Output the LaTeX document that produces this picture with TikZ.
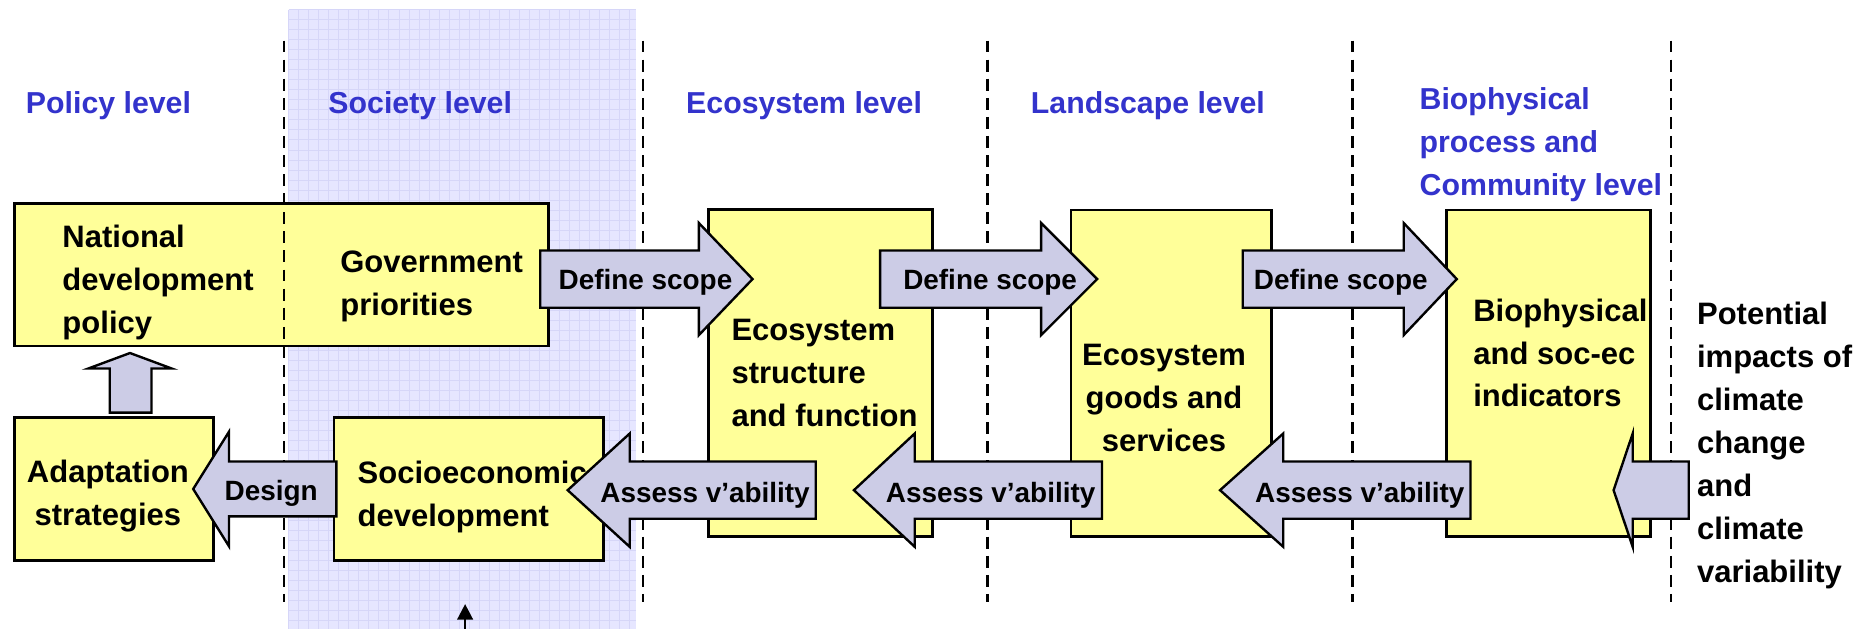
\documentclass[tikz,border=0pt]{standalone}
\usepackage{fontspec}
\setmainfont{Liberation Sans}
\usetikzlibrary{arrows.meta}
\definecolor{lvlblue}{RGB}{51,51,204}
\definecolor{boxyellow}{RGB}{255,255,153}
\definecolor{arrowfill}{RGB}{204,204,230}
\definecolor{shadec}{RGB}{230,230,255}
\definecolor{gridc}{RGB}{214,214,248}
\begin{document}
\begin{tikzpicture}[x=0.5pt,y=-0.5pt,
  box/.style={draw=black, line width=1pt, fill=boxyellow, inner sep=0pt},
  boxtxt/.style={font=\fontsize{13}{18}\selectfont\bfseries, inner sep=0pt, align=left, anchor=north west},
  boxtxtc/.style={font=\fontsize{13}{18}\selectfont\bfseries, inner sep=0pt, align=center, anchor=north},
  lvl/.style={font=\fontsize{12.7}{18}\selectfont\bfseries, text=lvlblue, inner sep=0pt, align=left, anchor=north west},
  barrow/.style={draw=black, line width=1pt, fill=arrowfill, line join=miter},
  alabel/.style={font=\fontsize{11.7}{14}\selectfont\bfseries, inner sep=0pt, anchor=base west},
  divider/.style={draw=black, dash pattern=on 5pt off 3pt, line width=0.9pt}]
\useasboundingbox (0,0) rectangle (1568,527);
% shaded society column
\fill[shadec] (242,8) rectangle (533,527);
\foreach \gx in {242,250.4,...,533} \draw[gridc, line width=0.25pt] (\gx,8) -- (\gx,527);
\foreach \gy in {8,16.4,...,527} \draw[gridc, line width=0.25pt] (242,\gy) -- (533,\gy);
% boxes
\node[box, minimum width=224pt, minimum height=59.75pt] (topbox) at (236,230.5) {};
\node[box, minimum width=83.5pt, minimum height=60pt] (adapt) at (95.5,410) {};
\node[box, minimum width=113pt, minimum height=60pt] (socio) at (393,410) {};
\node[box, minimum width=94pt, minimum height=137.25pt] (ecostruct) at (688,312.75) {};
\node[box, minimum width=84pt, minimum height=137pt] (goods) at (982,313) {};
\node[box, minimum width=85.5pt, minimum height=137pt] (bioind) at (1298.5,313) {};
% box texts
\node[boxtxt] (tnat) at (52,188) {National\\development\\policy};
\node[boxtxt] (tgov) at (285,210) {Government\\priorities};
\node[boxtxtc] (tadapt) at (90.5,385) {Adaptation\\strategies};
\node[boxtxt] (tsocio) at (299.5,386) {Socioeconomic\\development};
\node[boxtxt] (teco) at (613,267) {Ecosystem\\structure\\and function};
\node[boxtxtc] (tgoods) at (976,288) {Ecosystem\\goods and\\services};
\node[boxtxt] (tbio) at (1235,250) {Biophysical\\and soc-ec\\indicators};
\node[boxtxt] (tpot) at (1422.6,253) {Potential\\impacts of\\climate\\change\\and\\climate\\variability};
% level labels
\node[lvl] (lpol) at (21.4,76) {Policy level};
\node[lvl] (lsoc) at (275,76) {Society level};
\node[lvl] (leco) at (575,76) {Ecosystem level};
\node[lvl] (llan) at (864,76) {Landscape level};
\node[lvl] (lbio) at (1190,73) {Biophysical\\process and\\Community level};
% dividers
\foreach \dx in {238,539,828,1134,1401} \draw[divider] (\dx,34) -- (\dx,505);
% block arrows: define scope
\draw[barrow] (453,210) -- (586,210) -- (586,187) -- (631,234) -- (586,281) -- (586,258) -- (453,258) -- cycle;
\draw[barrow] (738,210) -- (873,210) -- (873,187) -- (920,234) -- (873,281) -- (873,258) -- (738,258) -- cycle;
\draw[barrow] (1042,210) -- (1177,210) -- (1177,187) -- (1221.5,234) -- (1177,281) -- (1177,258) -- (1042,258) -- cycle;
% assess arrows
\draw[barrow] (684,387) -- (528,387) -- (528,363.5) -- (476,411) -- (528,458.5) -- (528,435) -- (684,435) -- cycle;
\draw[barrow] (924,387) -- (767,387) -- (767,363.5) -- (716,411) -- (767,458.5) -- (767,435) -- (924,435) -- cycle;
\draw[barrow] (1233,387) -- (1076,387) -- (1076,363.5) -- (1023,411) -- (1076,458.5) -- (1076,435) -- (1233,435) -- cycle;
\draw[barrow] (1416,387) -- (1369,387) -- (1369,363.5) -- (1353,411) -- (1369,458.5) -- (1369,435) -- (1416,435) -- cycle;
% design arrow
\draw[barrow] (282,387) -- (192,387) -- (192,362) -- (162,410) -- (192,458) -- (192,433) -- (282,433) -- cycle;
% up arrow
\draw[barrow] (92,346) -- (92,309) -- (74,309) -- (109,296) -- (144,309) -- (127,309) -- (127,346) -- cycle;
% arrow labels
\node[alabel] (ldes) at (188,420) {Design};
\node[alabel] (ld1) at (468,243) {Define scope};
\node[alabel] (ld2) at (757,243) {Define scope};
\node[alabel] (ld3) at (1051,243) {Define scope};
\node[alabel] (la1) at (503,421) {Assess v’ability};
\node[alabel] (la2) at (742.5,421) {Assess v’ability};
\node[alabel] (la3) at (1052,421) {Assess v’ability};
% small arrow at bottom
\coordinate (sb) at (390,527);
\coordinate (st) at (390,506.5);
\draw[line width=1pt, -{Triangle[length=6.5pt,width=6.5pt]}] (sb) -- (st);
\end{tikzpicture}
\end{document}
